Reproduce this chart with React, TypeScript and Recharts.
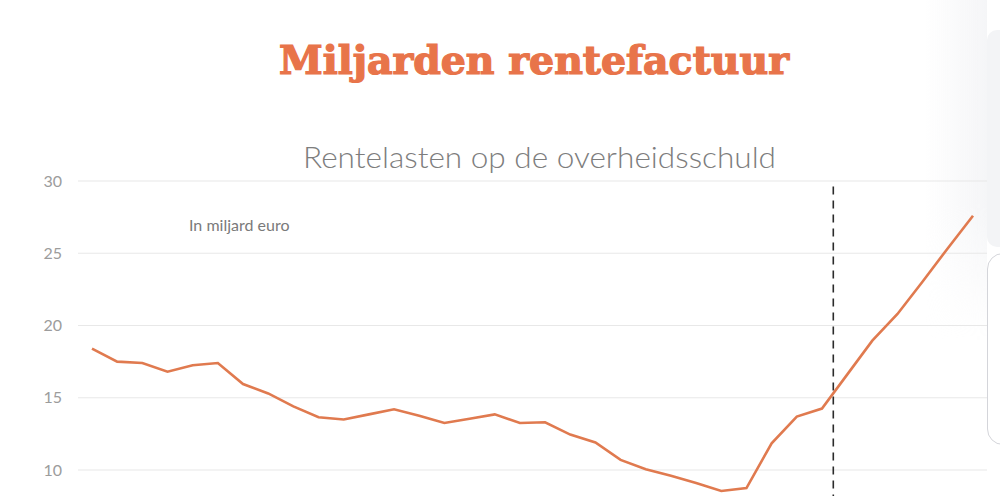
import React from "react";
import { LineChart, Line, XAxis, YAxis, CartesianGrid, ReferenceLine } from "recharts";

const years = [
  1995, 1996, 1997, 1998, 1999, 2000, 2001, 2002, 2003, 2004, 2005, 2006,
  2007, 2008, 2009, 2010, 2011, 2012, 2013, 2014, 2015, 2016, 2017, 2018,
  2019, 2020, 2021, 2022, 2023, 2024, 2025, 2026, 2027, 2028, 2029, 2030,
];
const interest = [
  18.4, 17.5, 17.4, 16.8, 17.25, 17.4, 15.95, 15.3, 14.4, 13.65, 13.5, 13.85,
  14.2, 13.75, 13.25, 13.55, 13.85, 13.25, 13.3, 12.45, 11.9, 10.7, 10.05, 9.6,
  9.1, 8.55, 8.75, 11.85, 13.7, 14.25, 16.6, 18.95, 20.8, 23.05, 25.35, 27.6,
];
const yTicks = [10, 15, 20, 25, 30];
const forecastStart = 2024.45;

const title = "Miljarden rentefactuur";
const subtitle = "Rentelasten op de overheidsschuld";
const unitLabel = "In miljard euro";

const data = years.map((y, i) => ({ year: y, value: interest[i] }));

export default function App() {
  return (
    <div
      style={{
        position: "fixed",
        top: 0,
        left: 0,
        width: 1000,
        height: 496,
        overflow: "hidden",
        background: "#ffffff",
      }}
    >
      <div
        style={{
          position: "absolute",
          left: 925,
          top: 0,
          width: 62,
          height: 340,
          background:
            "linear-gradient(to right, rgba(238,239,242,0), rgba(238,239,242,0.6))",
          WebkitMaskImage: "linear-gradient(to bottom, #000 60%, transparent)",
          maskImage: "linear-gradient(to bottom, #000 60%, transparent)",
        }}
      />
      <div style={{ position: "absolute", left: 0, top: 0 }}>
        <LineChart
          width={1000}
          height={640}
          data={data}
          margin={{ top: 181, right: 13, bottom: 25.5, left: 0 }}
        >
          <CartesianGrid vertical={false} stroke="#e8e8e8" strokeWidth={1.2} />
          <XAxis
            dataKey="year"
            type="number"
            domain={[1995, 2030]}
            padding={{ left: 14, right: 14 }}
            hide
          />
          <YAxis
            width={78}
            domain={[0, 30]}
            ticks={yTicks}
            axisLine={false}
            tickLine={false}
            tickMargin={10}
            tick={{ fill: "#9c9c9c", fontSize: 16, fontFamily: "Lato", fontWeight: 400 }}
          />
          <ReferenceLine
            x={forecastStart}
            stroke="#2b2b2b"
            strokeWidth={1.6}
            strokeDasharray="8 6"
          />
          <Line
            type="linear"
            dataKey="value"
            stroke="#e07a4f"
            strokeWidth={2.6}
            dot={false}
            isAnimationActive={false}
          />
        </LineChart>
      </div>
      <svg
        width={1000}
        height={496}
        style={{ position: "absolute", left: 0, top: 0, pointerEvents: "none" }}
      >
        <text
          x={534}
          y={74}
          textAnchor="middle"
          fill="#e8744a"
          stroke="#e8744a"
          strokeWidth={1.2}
          fontFamily="'DejaVu Serif Condensed', 'DejaVu Serif', serif"
          fontWeight={700}
          fontSize={39}
          textLength={510}
          lengthAdjust="spacingAndGlyphs"
        >
          {title}
        </text>
        <text
          x={539.5}
          y={168}
          textAnchor="middle"
          fill="#7d7d7d"
          fontFamily="Lato"
          fontWeight={300}
          fontSize={29}
          textLength={473}
          lengthAdjust="spacingAndGlyphs"
        >
          {subtitle}
        </text>
        <text x={189} y={231} fill="#7a7a7a" fontFamily="Lato" fontSize={16}>
          {unitLabel}
        </text>
      </svg>
      <div
        style={{
          position: "absolute",
          left: 987,
          top: 30,
          width: 30,
          height: 217,
          background: "#f3f4f6",
          borderRadius: "10px 0 0 10px",
        }}
      />
      <div
        style={{
          position: "absolute",
          left: 987,
          top: 253,
          width: 40,
          height: 192,
          background: "#ffffff",
          border: "1.5px solid #d4d5da",
          borderRadius: 16,
          boxSizing: "border-box",
        }}
      />
    </div>
  );
}
